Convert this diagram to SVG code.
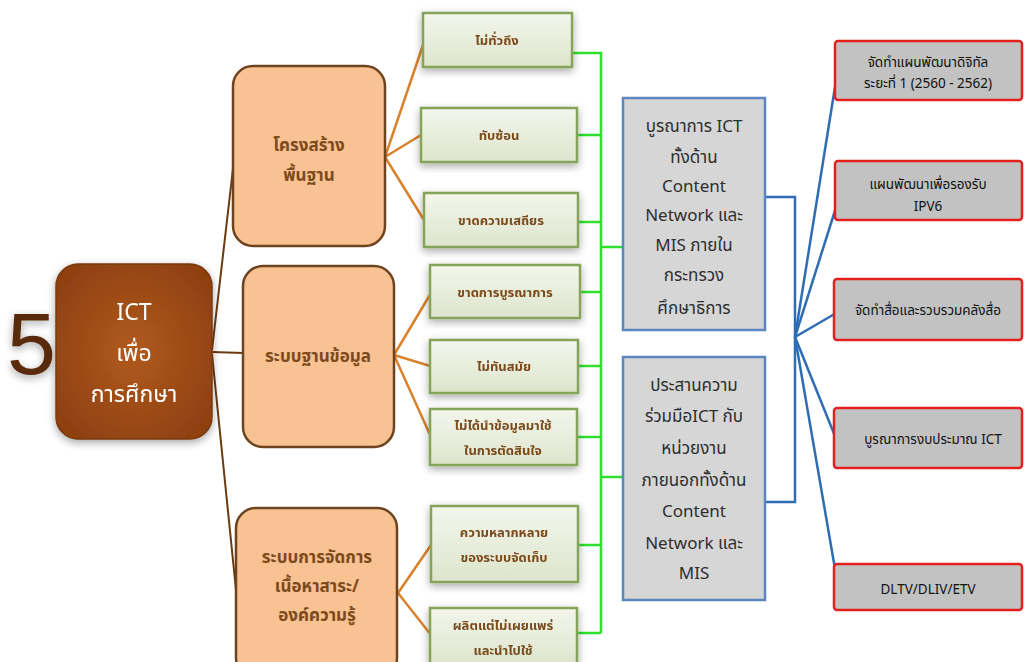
<svg xmlns="http://www.w3.org/2000/svg" width="1027" height="662" viewBox="0 0 1027 662">
<defs>
<style>
.th{font-family:"Noto Sans Thai","Noto Sans Thai UI","Loma","Garuda","Tlwg Typo","Norasi","Liberation Sans","DejaVu Sans",sans-serif;}
.c{text-anchor:middle;}
.main{font-size:23px;fill:#ffffff;}
.peach{fill:#F8C293;stroke:#6e4420;stroke-width:2.5;}
.ptxt{font-size:17px;fill:#7d4a1c;font-weight:bold;}
.green{fill:url(#gg);stroke:#86a35a;stroke-width:2.5;}
.gtxt{font-size:13px;fill:#7a4a1a;font-weight:bold;}
.blue{fill:#d6d6d6;stroke:#5b86bf;stroke-width:2.5;}
.btxt{font-size:17px;fill:#2e2e2e;}
.red{fill:#c2c2c2;stroke:#e2201e;stroke-width:2.5;}
.rtxt{font-size:13.5px;fill:#111111;}
.lb{stroke:#6b3a10;stroke-width:2;fill:none;}
.lo{stroke:#d9822b;stroke-width:2.5;fill:none;}
.lg{stroke:#2fe02f;stroke-width:2.5;fill:none;}
.lbl{stroke:#2f6db3;stroke-width:2.5;fill:none;}
</style>
<linearGradient id="gg" x1="0" y1="0" x2="0" y2="1">
<stop offset="0" stop-color="#f3f6ec"/>
<stop offset="1" stop-color="#dde5cc"/>
</linearGradient>
<radialGradient id="cg" cx="0.5" cy="0.5" r="0.7">
<stop offset="0" stop-color="#b05a1e"/>
<stop offset="1" stop-color="#8a3c0f"/>
</radialGradient>
<filter id="sh" x="-20%" y="-20%" width="140%" height="140%">
<feGaussianBlur in="SourceAlpha" stdDeviation="4"/>
<feOffset dx="0" dy="3" result="b"/>
<feComponentTransfer><feFuncA type="linear" slope="0.35"/></feComponentTransfer>
<feMerge><feMergeNode/><feMergeNode in="SourceGraphic"/></feMerge>
</filter>
</defs>
<rect width="1027" height="662" fill="#ffffff"/>

<g id="connectors">
<path class="lb" d="M212,350 L234,160"/>
<path class="lb" d="M212,352 L243,353"/>
<path class="lb" d="M212,354 L236,590"/>
<path class="lo" d="M385,157 L424,42"/>
<path class="lo" d="M385,157 L421,135"/>
<path class="lo" d="M385,157 L424,220"/>
<path class="lo" d="M394,355 L431,293"/>
<path class="lo" d="M394,355 L430,366"/>
<path class="lo" d="M394,355 L431,437"/>
<path class="lo" d="M398,593 L431,545"/>
<path class="lo" d="M398,593 L431,635"/>
<path class="lg" d="M572,53 H601 V633"/>
<path class="lg" d="M577,135 H601"/>
<path class="lg" d="M578,222 H601"/>
<path class="lg" d="M580,292 H601"/>
<path class="lg" d="M578,366 H601"/>
<path class="lg" d="M577,437 H601"/>
<path class="lg" d="M578,545 H601"/>
<path class="lg" d="M577,633 H601"/>
<path class="lg" d="M601,247 H623"/>
<path class="lg" d="M601,477 H623"/>
<path class="lbl" d="M766,197 H795 V502 H766"/>
<path class="lbl" d="M795,337 L839,62"/>
<path class="lbl" d="M795,337 L839,198"/>
<path class="lbl" d="M795,337 L838,312"/>
<path class="lbl" d="M795,337 L839,446"/>
<path class="lbl" d="M795,337 L839,592"/>
</g>

<g id="five" filter="url(#sh)">
<text x="7" y="374" font-family="Liberation Sans, Arial, sans-serif" font-size="88" fill="#5a2b0b">5</text>
</g>

<g id="n-center" filter="url(#sh)">
<rect x="56" y="264" width="156" height="175" rx="22" fill="url(#cg)" stroke="#7a3a10" stroke-width="1.5"/>
<text class="th c main" x="134" y="320">ICT</text>
<text class="th c main" x="134" y="361">เพื่อ</text>
<text class="th c main" x="134" y="402">การศึกษา</text>
</g>

<g id="n-infra">
<rect class="peach" x="233" y="66" width="152" height="180" rx="20"/>
<text class="th c ptxt" x="309" y="151">โครงสร้าง</text>
<text class="th c ptxt" x="309" y="181">พื้นฐาน</text>
</g>
<g id="n-db">
<rect class="peach" x="243" y="266" width="151" height="181" rx="20"/>
<text class="th c ptxt" x="318" y="362">ระบบฐานข้อมูล</text>
</g>
<g id="n-content">
<rect class="peach" x="236" y="508" width="161" height="170" rx="20"/>
<text class="th c ptxt" x="317" y="563">ระบบการจัดการ</text>
<text class="th c ptxt" x="317" y="592">เนื้อหาสาระ/</text>
<text class="th c ptxt" x="317" y="621">องค์ความรู้</text>
</g>

<g id="g1" filter="url(#sh)"><rect class="green" x="423" y="13" width="149" height="54"/><text class="th c gtxt" x="497" y="45">ไม่ทั่วถึง</text></g>
<g id="g2" filter="url(#sh)"><rect class="green" x="421" y="108" width="156" height="54"/><text class="th c gtxt" x="499" y="140">ทับซ้อน</text></g>
<g id="g3" filter="url(#sh)"><rect class="green" x="424" y="193" width="154" height="54"/><text class="th c gtxt" x="501" y="225">ขาดความเสถียร</text></g>
<g id="g4" filter="url(#sh)"><rect class="green" x="430" y="265" width="150" height="53"/><text class="th c gtxt" x="505" y="297">ขาดการบูรณาการ</text></g>
<g id="g5" filter="url(#sh)"><rect class="green" x="430" y="340" width="148" height="53"/><text class="th c gtxt" x="504" y="371">ไม่ทันสมัย</text></g>
<g id="g6" filter="url(#sh)"><rect class="green" x="430" y="409" width="147" height="56"/><text class="th c gtxt" x="503" y="430">ไม่ได้นำข้อมูลมาใช้</text><text class="th c gtxt" x="503" y="455">ในการตัดสินใจ</text></g>
<g id="g7" filter="url(#sh)"><rect class="green" x="431" y="506" width="147" height="76"/><text class="th c gtxt" x="504" y="537">ความหลากหลาย</text><text class="th c gtxt" x="504" y="562">ของระบบจัดเก็บ</text></g>
<g id="g8" filter="url(#sh)"><rect class="green" x="430" y="608" width="147" height="56"/><text class="th c gtxt" x="503" y="630">ผลิตแต่ไม่เผยแพร่</text><text class="th c gtxt" x="503" y="655">และนำไปใช้</text></g>

<g id="b1">
<rect class="blue" x="623" y="98" width="142" height="232"/>
<text class="th c btxt" x="694" y="132">บูรณาการ ICT</text>
<text class="th c btxt" x="694" y="163">ทั้งด้าน</text>
<text class="th c btxt" x="694" y="192">Content</text>
<text class="th c btxt" x="694" y="221">Network และ</text>
<text class="th c btxt" x="694" y="251">MIS ภายใน</text>
<text class="th c btxt" x="694" y="281">กระทรวง</text>
<text class="th c btxt" x="694" y="314">ศึกษาธิการ</text>
</g>
<g id="b2">
<rect class="blue" x="623" y="357" width="142" height="243"/>
<text class="th c btxt" x="694" y="391">ประสานความ</text>
<text class="th c btxt" x="694" y="422">ร่วมมือICT กับ</text>
<text class="th c btxt" x="694" y="454">หน่วยงาน</text>
<text class="th c btxt" x="694" y="486">ภายนอกทั้งด้าน</text>
<text class="th c btxt" x="694" y="517">Content</text>
<text class="th c btxt" x="694" y="549">Network และ</text>
<text class="th c btxt" x="694" y="579">MIS</text>
</g>

<g id="r1"><rect class="red" x="835" y="41" width="187" height="59" rx="3"/><text class="th c rtxt" x="928" y="67">จัดทำแผนพัฒนาดิจิทัล</text><text class="th c rtxt" x="928" y="88">ระยะที่ 1 (2560 - 2562)</text></g>
<g id="r2"><rect class="red" x="835" y="161" width="187" height="59" rx="3"/><text class="th c rtxt" x="928" y="189">แผนพัฒนาเพื่อรองรับ</text><text class="th c rtxt" x="928" y="211">IPV6</text></g>
<g id="r3"><rect class="red" x="834" y="279" width="188" height="61" rx="3"/><text class="th c rtxt" x="928" y="315">จัดทำสื่อและรวบรวมคลังสื่อ</text></g>
<g id="r4"><rect class="red" x="834" y="408" width="188" height="60" rx="3"/><text class="th c rtxt" x="933" y="444">บูรณาการงบประมาณ ICT</text></g>
<g id="r5"><rect class="red" x="834" y="564" width="188" height="46" rx="3"/><text class="th c rtxt" x="928" y="594">DLTV/DLIV/ETV</text></g>
</svg>
